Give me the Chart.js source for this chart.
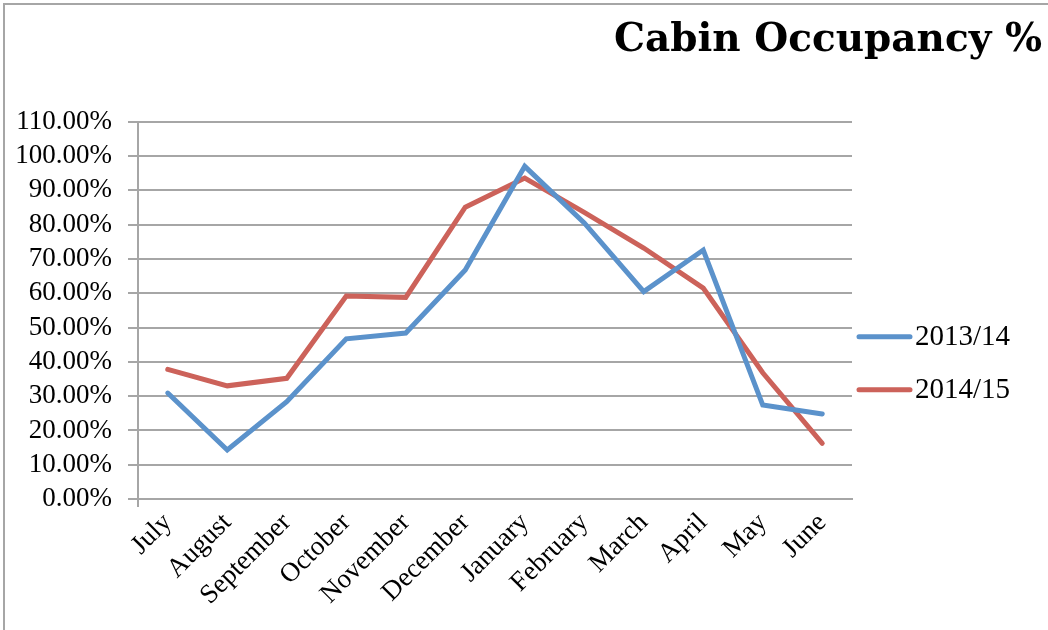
<!DOCTYPE html>
<html>
<head>
<meta charset="utf-8">
<title>Cabin Occupancy %</title>
<script src="https://cdn.jsdelivr.net/npm/chart.js@4.4.1/dist/chart.umd.min.js"></script>
<style>
    html, body { margin: 0; padding: 0; background: #fff; overflow: hidden; }
    #wrap { position: relative; width: 1048px; height: 630px; }
    #frame {
        position: absolute; left: 3px; top: 3px; width: 1100px; height: 700px;
        border-left: 2px solid #a6a6a6; border-top: 2px solid #a6a6a6;
    }
    canvas { position: absolute; left: 0; top: 0; }
</style>
</head>
<body>
<div id="wrap">
    <div id="frame"></div>
    <canvas id="occupancyChart" width="1048" height="630"></canvas>
</div>
<script>
// Data
const months = ['July', 'August', 'September', 'October', 'November', 'December',
    'January', 'February', 'March', 'April', 'May', 'June'];
const occupancy1314 = [30.9, 14.3, 28.4, 46.7, 48.4, 66.8, 97.0, 80.5, 60.5, 72.6, 27.4, 24.8];
const occupancy1415 = [37.8, 33.0, 35.2, 59.2, 58.8, 85.1, 93.6, 83.6, 73.2, 61.5, 36.8, 16.2];
const seriesLabels = ['2013/14', '2014/15'];
const yMax = 110;
const yStep = 10;

const gridGrey = '#a6a6a6';
const serif = '"Liberation Serif", serif';
const tickFont = { family: serif, size: 27 };

// legend drawn on the right, to the side of the plot
const sideLegend = {
    id: 'sideLegend',
    afterDraw(chart) {
        const c = chart.ctx;
        const area = chart.chartArea;
        c.save();
        chart.data.datasets.forEach((ds, i) => {
            const y = area.top + 215 + i * 53;
            const x = area.right + 7;
            c.strokeStyle = ds.borderColor;
            c.lineWidth = 5;
            c.lineCap = 'round';
            c.beginPath();
            c.moveTo(x, y);
            c.lineTo(x + 51, y);
            c.stroke();
            c.fillStyle = '#000';
            c.font = `29px ${serif}`;
            c.textBaseline = 'middle';
            c.fillText(ds.label, x + 56, y + 1);
        });
        c.restore();
    }
};

const ctx = document.getElementById('occupancyChart').getContext('2d');
new Chart(ctx, {
    type: 'line',
    data: {
        labels: months,
        datasets: [
            {
                label: seriesLabels[0],
                data: occupancy1314,
                borderColor: '#5b92cb',
                backgroundColor: '#5b92cb',
                borderWidth: 5,
                borderCapStyle: 'round',
                pointRadius: 0,
                tension: 0,
            },
            {
                label: seriesLabels[1],
                data: occupancy1415,
                borderColor: '#cc625a',
                backgroundColor: '#cc625a',
                borderWidth: 5,
                borderCapStyle: 'round',
                pointRadius: 0,
                tension: 0,
            }
        ]
    },
    options: {
        responsive: false,
        animation: false,
        layout: { padding: { left: 0, right: 6, top: 0, bottom: 0 } },
        plugins: {
            legend: { display: false },
            tooltip: { enabled: false },
            title: {
                display: true,
                text: 'Cabin Occupancy %',
                align: 'end',
                color: '#000',
                font: { family: '"DejaVu Serif", serif', size: 39, weight: 'bold' },
                padding: { top: 17, bottom: 58 }
            }
        },
        scales: {
            x: {
                offset: true,
                grid: {
                    offset: true,
                    drawOnChartArea: false,
                    tickLength: 8,
                    lineWidth: 2,
                    color: c => (c.index === 0 || c.index === months.length) ? gridGrey : 'rgba(0,0,0,0)'
                },
                border: { color: gridGrey, width: 2 },
                ticks: {
                    autoSkip: false,
                    maxRotation: 45,
                    minRotation: 45,
                    color: '#000',
                    font: tickFont,
                    padding: 0
                },
                afterFit: s => { s.height = 131; }
            },
            y: {
                min: 0,
                max: yMax,
                grid: { color: gridGrey, lineWidth: 2, tickLength: 10 },
                border: { color: gridGrey, width: 2 },
                ticks: {
                    autoSkip: false,
                    stepSize: yStep,
                    color: '#000',
                    font: tickFont,
                    padding: 16,
                    callback: v => v.toFixed(2) + '%'
                },
                afterFit: s => { s.width = 138; }
            },
            legendSpace: {
                type: 'linear',
                position: 'right',
                grid: { display: false },
                border: { display: false },
                ticks: { display: false },
                afterFit: s => { s.width = 190; }
            }
        }
    },
    plugins: [sideLegend]
});
</script>
</body>
</html>
